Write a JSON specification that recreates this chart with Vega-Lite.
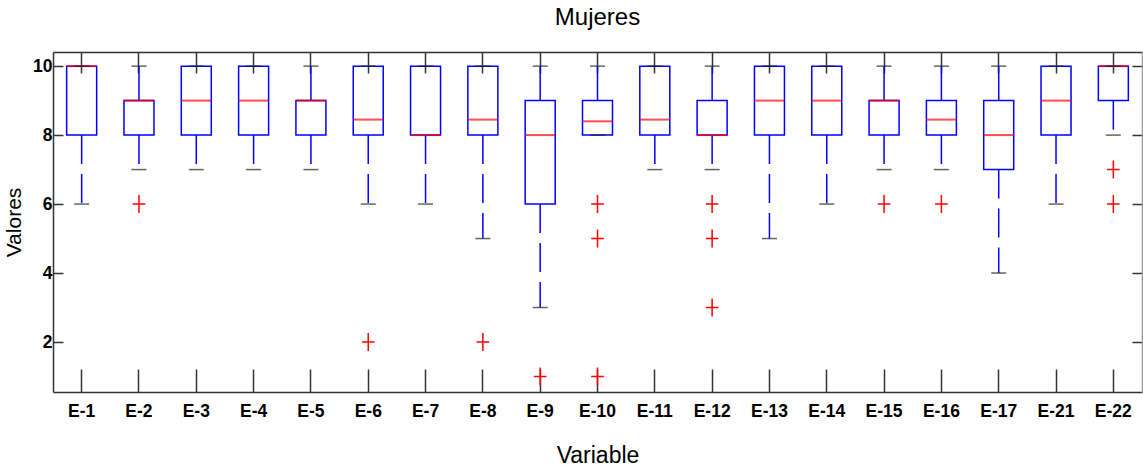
{
  "$schema": "https://vega.github.io/schema/vega-lite/v6.json",
  "autosize": "none",
  "width": 1089,
  "height": 340,
  "padding": {"left": 53, "top": 52, "right": 1, "bottom": 79},
  "background": "white",
  "config": {"view": {"stroke": null}},
  "title": {"text": "Mujeres", "font": "Liberation Sans", "fontSize": 24, "fontWeight": "normal", "color": "#000", "anchor": "middle", "offset": 21},
  "datasets": {
    "boxes": [
      {"Variable": "E-1", "q1": 8, "median": 10, "q3": 10, "lower": 6, "upper": 10},
      {"Variable": "E-2", "q1": 8, "median": 9, "q3": 9, "lower": 7, "upper": 10},
      {"Variable": "E-3", "q1": 8, "median": 9, "q3": 10, "lower": 7, "upper": 10},
      {"Variable": "E-4", "q1": 8, "median": 9, "q3": 10, "lower": 7, "upper": 10},
      {"Variable": "E-5", "q1": 8, "median": 9, "q3": 9, "lower": 7, "upper": 10},
      {"Variable": "E-6", "q1": 8, "median": 8.45, "q3": 10, "lower": 6, "upper": 10},
      {"Variable": "E-7", "q1": 8, "median": 8, "q3": 10, "lower": 6, "upper": 10},
      {"Variable": "E-8", "q1": 8, "median": 8.45, "q3": 10, "lower": 5, "upper": 10},
      {"Variable": "E-9", "q1": 6, "median": 8, "q3": 9, "lower": 3, "upper": 10},
      {"Variable": "E-10", "q1": 8, "median": 8.4, "q3": 9, "lower": 8, "upper": 10},
      {"Variable": "E-11", "q1": 8, "median": 8.45, "q3": 10, "lower": 7, "upper": 10},
      {"Variable": "E-12", "q1": 8, "median": 8, "q3": 9, "lower": 7, "upper": 10},
      {"Variable": "E-13", "q1": 8, "median": 9, "q3": 10, "lower": 5, "upper": 10},
      {"Variable": "E-14", "q1": 8, "median": 9, "q3": 10, "lower": 6, "upper": 10},
      {"Variable": "E-15", "q1": 8, "median": 9, "q3": 9, "lower": 7, "upper": 10},
      {"Variable": "E-16", "q1": 8, "median": 8.45, "q3": 9, "lower": 7, "upper": 10},
      {"Variable": "E-17", "q1": 7, "median": 8, "q3": 9, "lower": 4, "upper": 10},
      {"Variable": "E-21", "q1": 8, "median": 9, "q3": 10, "lower": 6, "upper": 10},
      {"Variable": "E-22", "q1": 9, "median": 10, "q3": 10, "lower": 8, "upper": 10}
    ],
    "outliers": [
      {"Variable": "E-2", "value": 6},
      {"Variable": "E-6", "value": 2},
      {"Variable": "E-8", "value": 2},
      {"Variable": "E-9", "value": 1},
      {"Variable": "E-10", "value": 6},
      {"Variable": "E-10", "value": 5},
      {"Variable": "E-10", "value": 1},
      {"Variable": "E-12", "value": 6},
      {"Variable": "E-12", "value": 5},
      {"Variable": "E-12", "value": 3},
      {"Variable": "E-15", "value": 6},
      {"Variable": "E-16", "value": 6},
      {"Variable": "E-22", "value": 7},
      {"Variable": "E-22", "value": 6}
    ]
  },
  "resolve": {"axis": {"x": "independent", "y": "independent"}},
  "layer": [
    {
      "data": {"name": "boxes"},
      "mark": {"type": "rule", "color": "#0000ff", "strokeWidth": 1.5},
      "encoding": {
        "x": {"field": "Variable", "type": "nominal", "sort": null,
              "scale": {"type": "band", "paddingInner": 0, "paddingOuter": 0},
              "axis": {"orient": "bottom", "title": "Variable", "labelAngle": 0,
                       "tickSize": -23, "tickWidth": 1.5, "tickColor": "#333",
                       "domainColor": "#333", "domainWidth": 1.5,
                       "labelFont": "Liberation Sans", "labelFontSize": 17.5, "labelFontWeight": "bold", "labelColor": "#000",
                       "labelPadding": 33, "labelBaseline": "top",
                       "titleFont": "Liberation Sans", "titleFontSize": 23, "titleFontWeight": "normal", "titleColor": "#000", "titlePadding": 25}},
        "y": {"field": "q3", "type": "quantitative",
              "scale": {"domain": [0.55, 10.41], "nice": false, "zero": false},
              "axis": {"orient": "left", "title": "Valores", "values": [2, 4, 6, 8, 10], "grid": false,
                       "tickSize": -10, "tickWidth": 1.5, "tickColor": "#333",
                       "domainColor": "#333", "domainWidth": 1.5,
                       "labelFont": "Liberation Sans", "labelFontSize": 17.5, "labelFontWeight": "bold", "labelColor": "#000",
                       "labelPadding": 11,
                       "titleFont": "Liberation Sans", "titleFontSize": 21, "titleFontWeight": "normal", "titleColor": "#000", "titlePadding": 8}},
        "y2": {"field": "upper"}
      }
    },
    {
      "data": {"name": "boxes"},
      "mark": {"type": "rule", "color": "#0000ff", "strokeWidth": 1.5, "strokeDash": [29, 10]},
      "encoding": {
        "x": {"field": "Variable", "type": "nominal", "sort": null, "axis": null},
        "y": {"field": "q1", "type": "quantitative", "axis": null},
        "y2": {"field": "lower"}
      }
    },
    {
      "data": {"name": "boxes"},
      "mark": {"type": "bar", "size": 30, "fill": "transparent", "stroke": "#0000ff", "strokeWidth": 1.5},
      "encoding": {
        "x": {"field": "Variable", "type": "nominal", "sort": null, "axis": null},
        "y": {"field": "q1", "type": "quantitative", "axis": null},
        "y2": {"field": "q3"}
      }
    },
    {
      "data": {"name": "boxes"},
      "mark": {"type": "tick", "color": "#ff0000", "size": 30, "thickness": 2},
      "encoding": {
        "x": {"field": "Variable", "type": "nominal", "sort": null, "axis": null},
        "y": {"field": "median", "type": "quantitative", "axis": null}
      }
    },
    {
      "data": {"name": "boxes"},
      "mark": {"type": "tick", "color": "#222", "size": 15, "thickness": 1.5},
      "encoding": {
        "x": {"field": "Variable", "type": "nominal", "sort": null, "axis": null},
        "y": {"field": "lower", "type": "quantitative", "axis": null}
      }
    },
    {
      "data": {"name": "boxes"},
      "mark": {"type": "tick", "color": "#222", "size": 15, "thickness": 1.5},
      "encoding": {
        "x": {"field": "Variable", "type": "nominal", "sort": null,
              "axis": {"orient": "top", "title": null, "labels": false, "tickSize": -21, "tickWidth": 1.5, "tickColor": "#333", "domainColor": "#333", "domainWidth": 1.5}},
        "y": {"field": "upper", "type": "quantitative",
              "axis": {"orient": "right", "title": null, "labels": false, "grid": false, "values": [2, 4, 6, 8, 10], "tickSize": -10, "tickWidth": 1.5, "tickColor": "#333", "domainColor": "#999", "domainWidth": 1.5}}
      }
    },
    {
      "data": {"name": "outliers"},
      "mark": {"type": "point", "shape": "M-0.7,0H0.7M0,-1V1", "filled": false, "color": "#ff0000", "strokeWidth": 1.5, "size": 324, "opacity": 1},
      "encoding": {
        "x": {"field": "Variable", "type": "nominal", "sort": null, "axis": null},
        "y": {"field": "value", "type": "quantitative", "axis": null}
      }
    }
  ]
}
